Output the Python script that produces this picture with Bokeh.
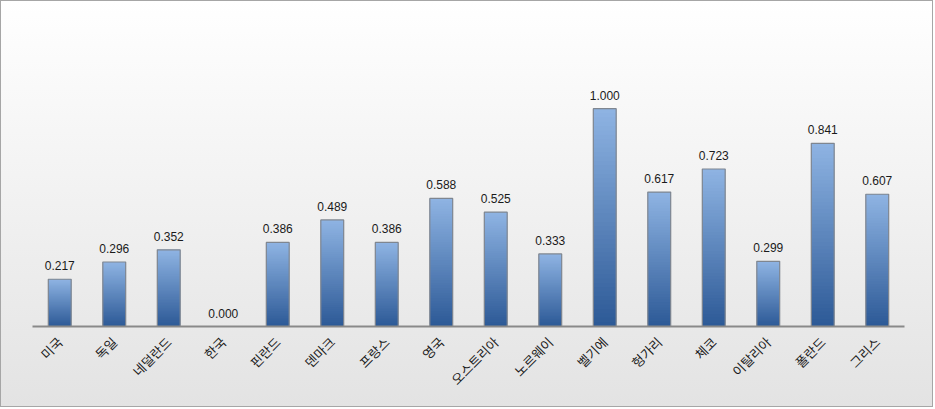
import math
from bokeh.plotting import figure
from bokeh.models import ColumnDataSource, FactorRange, Range1d, LabelSet
from bokeh.core.properties import value
from bokeh.embed import file_html
from bokeh.resources import INLINE

# ---- data ----
categories = ["미국", "독일", "네덜란드", "한국", "핀란드", "덴마크", "프랑스", "영국",
              "오스트리아", "노르웨이", "벨기에", "헝가리", "체코", "이탈리아", "폴란드", "그리스"]
values = [0.217, 0.296, 0.352, 0.000, 0.386, 0.489, 0.386, 0.588,
          0.525, 0.333, 1.000, 0.617, 0.723, 0.299, 0.841, 0.607]
value_labels = ["%.3f" % v for v in values]

# ---- style ----
BAR_W = 0.42
TOP_RGB = (143, 180, 227)
BOT_RGB = (44, 89, 150)
N_SLICES = 50

def mix(t):
    r = [round(BOT_RGB[i] + (TOP_RGB[i] - BOT_RGB[i]) * t) for i in range(3)]
    return "#%02x%02x%02x" % tuple(r)

p = figure(width=933, height=407, output_backend="svg", toolbar_location=None,
           x_range=FactorRange(*categories), y_range=Range1d(0, 1.4),
           min_border_left=31, min_border_right=30, min_border_top=20, min_border_bottom=82,
           styles={"background": "linear-gradient(to bottom, #ffffff 0%, #e3e3e3 100%)",
                   "border": "1px solid #a6a6a6"})
p.background_fill_alpha = 0
p.border_fill_alpha = 0
p.outline_line_color = None
p.xgrid.visible = False
p.ygrid.visible = False
p.yaxis.visible = False

# gradient bars built from overlapping thin slices of each value
sx, sb, st, sc = [], [], [], []
for c, v in zip(categories, values):
    if v <= 0:
        continue
    for k in range(N_SLICES):
        sx.append(c)
        sb.append(v * k / N_SLICES)
        st.append(min(v, v * (k + 2) / N_SLICES))
        sc.append(mix((k + 0.5) / N_SLICES))
slices = ColumnDataSource(dict(x=sx, bottom=sb, top=st, color=sc))
p.vbar(x="x", bottom="bottom", top="top", width=BAR_W, source=slices,
       fill_color="color", line_color=None)

src = ColumnDataSource(dict(x=categories, top=values, label=value_labels))
p.vbar(x="x", top="top", width=BAR_W, source=src, fill_alpha=0,
       line_color="#7f8690", line_width=1.2)

labels = LabelSet(x="x", y="top", text="label", source=src, text_align="center",
                  text_baseline="bottom", y_offset=9, text_font_size="12px",
                  text_font=value("Liberation Sans"), text_color="#1a1a1a")
p.add_layout(labels)

ax = p.xaxis[0]
ax.axis_line_color = "#898989"
ax.axis_line_width = 2
ax.major_tick_line_color = None
ax.minor_tick_line_color = None
ax.major_label_orientation = math.pi / 4
ax.major_label_standoff = 7
ax.major_label_text_font = "Noto Sans CJK KR"
ax.major_label_text_font_size = "13px"
ax.major_label_text_color = "#1a1a1a"

open("out.html", "w").write(file_html(p, INLINE))
